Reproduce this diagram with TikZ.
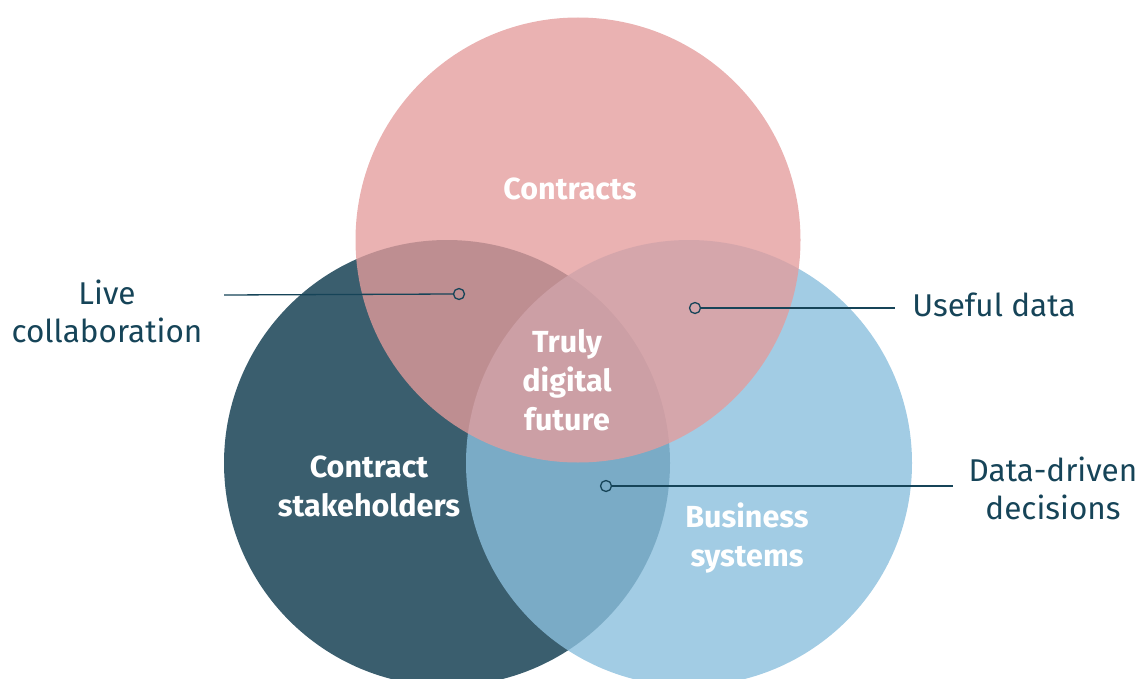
\documentclass[tikz,border=0pt]{standalone}
\usepackage{fontspec}
\setmainfont{Fira Sans}
\definecolor{darkc}{RGB}{58,94,110}
\definecolor{bluec}{RGB}{139,191,221}
\definecolor{pinkc}{RGB}{228,156,156}
\definecolor{labc}{RGB}{22,68,88}
\tikzset{
  inlab/.style={text=white,font=\fontsize{30.5}{39}\selectfont\bfseries,align=center},
  outlab/.style={text=labc,font=\fontsize{31.5}{38}\selectfont,align=center},
  lead/.style={draw=labc,line width=1.3pt},
  dotc/.style={circle,draw=labc,line width=1.3pt,fill=none,minimum size=11pt,inner sep=0pt}
}
\begin{document}
\begin{tikzpicture}[x=1pt,y=-1pt]
\useasboundingbox (0,0) rectangle (1142,679);
\begin{scope}
\clip (0,0) rectangle (1142,679);
\fill[darkc] (447,463) circle (223);
\fill[bluec,fill opacity=0.8] (689,463) circle (223);
\fill[pinkc,fill opacity=0.78] (578,240) circle (222.5);
\end{scope}
\node[inlab] (con) at (570,189) {Contracts};
\node[inlab] (tdf) at (567,380) {Truly\\digital\\future};
\node[inlab] (cs) at (369,486) {Contract\\stakeholders};
\node[inlab] (bs) at (747,538) {Business\\systems};
\node[outlab] (lc) at (107,311) {Live\\collaboration};
\node[outlab] (ud) at (994,305) {Useful data};
\node[outlab] (dd) at (1053,488) {Data-driven\\decisions};
\node[dotc] (d1) at (459,294) {};
\node[dotc] (d2) at (695,308) {};
\node[dotc] (d3) at (606,486) {};
\coordinate (e1) at (224,295);
\coordinate (e2) at (895,308);
\coordinate (e3) at (953,486);
\draw[lead] (e1) -- (d1.west);
\draw[lead] (d2.east) -- (e2);
\draw[lead] (d3.east) -- (e3);
\end{tikzpicture}
\end{document}
